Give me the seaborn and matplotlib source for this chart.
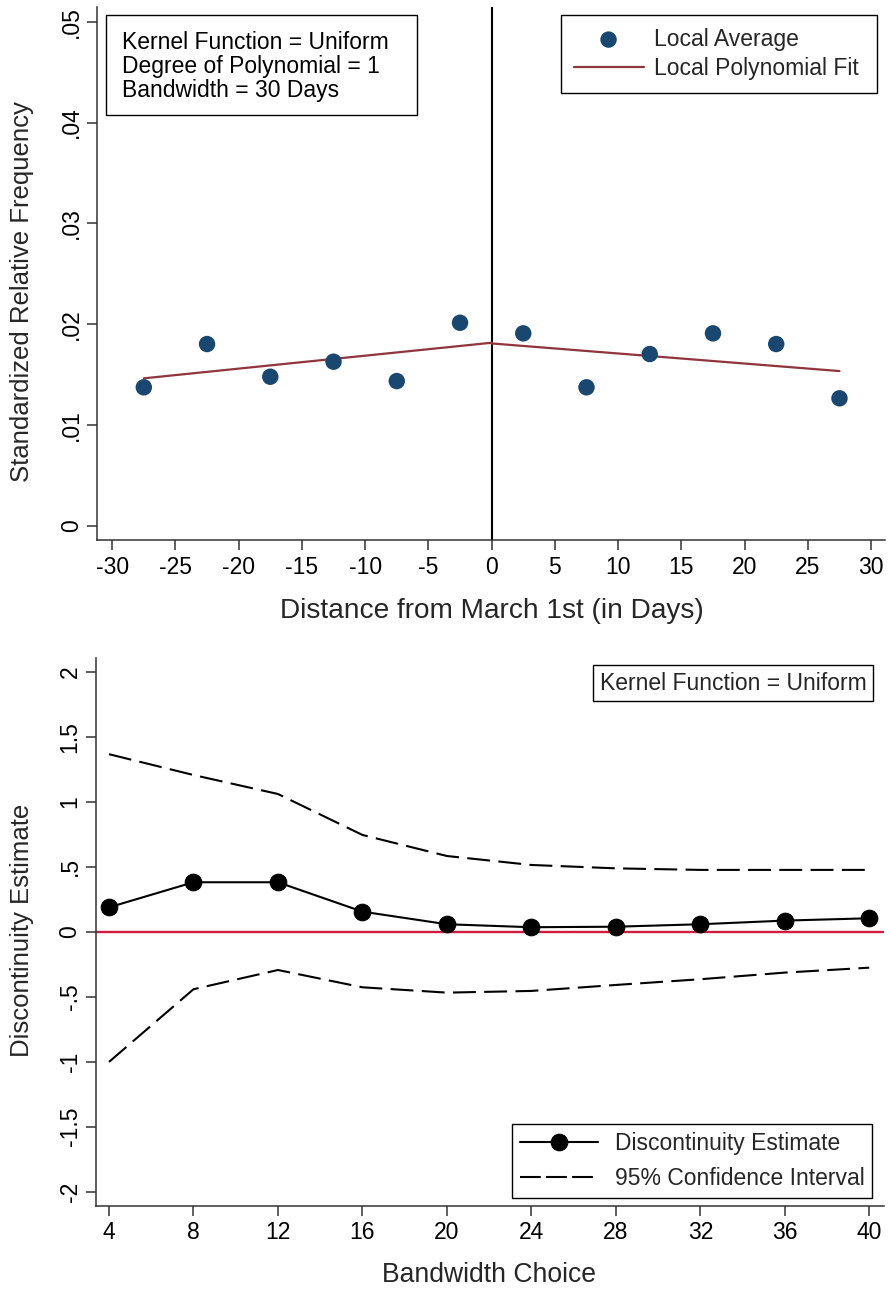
import numpy as np
import pandas as pd
import matplotlib
matplotlib.use("Agg")
import matplotlib.pyplot as plt
import matplotlib.patches as mpatches
import seaborn as sns

# ---------------- data ----------------
bin_centers = [-27.5, -22.5, -17.5, -12.5, -7.5, -2.5, 2.5, 7.5, 12.5, 17.5, 22.5, 27.5]
local_avg = [0.01375, 0.01804, 0.0148, 0.01629, 0.01437, 0.02015,
             0.0191, 0.01375, 0.01705, 0.0191, 0.01804, 0.01266]
fit_left_x = [-27.5, 0.0]
fit_left_y = [0.01464, 0.01817]
fit_right_x = [0.0, 27.5]
fit_right_y = [0.0181, 0.01536]

bandwidths = [4, 8, 12, 16, 20, 24, 28, 32, 36, 40]
estimate = [0.187, 0.38, 0.38, 0.154, 0.057, 0.034, 0.038, 0.057, 0.085, 0.103]
ci_upper = [1.365, 1.205, 1.059, 0.744, 0.582, 0.513, 0.487, 0.475, 0.475, 0.475]
ci_lower = [-1.002, -0.443, -0.295, -0.428, -0.469, -0.456, -0.41, -0.366, -0.315, -0.277]

top_xticks = [-30, -25, -20, -15, -10, -5, 0, 5, 10, 15, 20, 25, 30]
top_yticks = [0, 0.01, 0.02, 0.03, 0.04, 0.05]
top_yticklabels = ["0", ".01", ".02", ".03", ".04", ".05"]
bot_yticks = [-2, -1.5, -1, -0.5, 0, 0.5, 1, 1.5, 2]
bot_yticklabels = ["-2", "-1.5", "-1", "-.5", "0", ".5", "1", "1.5", "2"]

# ---------------- style ----------------
sns.set_theme(style="ticks")
plt.rcParams["font.family"] = ["Liberation Sans", "DejaVu Sans"]
plt.rcParams["axes.edgecolor"] = "#333333"
plt.rcParams["axes.linewidth"] = 1.1
plt.rcParams["xtick.color"] = "#333333"
plt.rcParams["ytick.color"] = "#333333"
plt.rcParams["xtick.labelcolor"] = "black"
plt.rcParams["ytick.labelcolor"] = "black"

NAVY = "#1a476f"
MAROON = "#90353b"
RED = "#d01c3f"
FS_TICK = 16.5
FS_YLAB = 18.5
FS_TXT = 16.5
DASH = (11, 4)

fig = plt.figure(figsize=(8.9, 12.89), dpi=100)
ax1 = fig.add_axes([97 / 890, 1 - 540 / 1289, 788 / 890, 533 / 1289])
ax2 = fig.add_axes([95.7 / 890, 1 - 1205.7 / 1289, 788.3 / 890, 547.7 / 1289])

# ---------------- top panel ----------------
df_pts = pd.DataFrame({"x": bin_centers, "y": local_avg})
ax1.axvline(0, color="black", lw=1.5, zorder=1)
sns.lineplot(x=fit_left_x, y=fit_left_y, ax=ax1, color=MAROON, lw=1.6,
             label="Local Polynomial Fit", errorbar=None, sort=False, zorder=2)
sns.lineplot(x=fit_right_x, y=fit_right_y, ax=ax1, color=MAROON, lw=1.6,
             errorbar=None, sort=False, zorder=2, legend=False)
sns.scatterplot(data=df_pts, x="x", y="y", ax=ax1, color=NAVY, s=140,
                edgecolor="none", label="Local Average", zorder=3)

ax1.set_xlim(-31.2, 31.1)
ax1.set_ylim(-0.00139, 0.05146)
ax1.set_xticks(top_xticks)
ax1.set_xticklabels([str(t) for t in top_xticks])
ax1.set_yticks(top_yticks)
ax1.set_yticklabels(top_yticklabels)
sns.despine(ax=ax1)

handles, labels = ax1.get_legend_handles_labels()
order = [labels.index("Local Average"), labels.index("Local Polynomial Fit")]
leg1 = ax1.legend([handles[i] for i in order], [labels[i] for i in order],
                  loc="upper right",
                  bbox_to_anchor=((561 - 97) / 788, 0.5, 316 / 788, 0.485),
                  mode="expand",
                  borderaxespad=0, frameon=True, fancybox=False, edgecolor="black",
                  framealpha=1, fontsize=FS_TXT, handlelength=3.05, handletextpad=0.48,
                  labelspacing=0.28, borderpad=0.55, scatterpoints=1)
leg1.get_frame().set_linewidth(1.0)

# text box (top-left)
ax1.add_patch(mpatches.Rectangle((9 / 788, 425 / 533), 311 / 788, 100 / 533,
                                 transform=ax1.transAxes, fill=False,
                                 edgecolor="black", lw=1.0, zorder=4))
for yb, s in zip([49, 73.5, 97], ["Kernel Function = Uniform",
                                  "Degree of Polynomial = 1",
                                  "Bandwidth = 30 Days"]):
    ax1.text(25 / 788, (540 - yb) / 533, s, transform=ax1.transAxes,
             fontsize=FS_TXT, va="baseline", ha="left", color="black")

ax1.set_xlabel("Distance from March 1st (in Days)", fontsize=20.2)
ax1.set_ylabel("Standardized Relative Frequency", fontsize=FS_YLAB)
ax1.xaxis.set_label_coords(0.501, -0.133)
ax1.xaxis.label.set_va("center")
ax1.yaxis.set_label_coords(-0.095, 0.467)
ax1.yaxis.label.set_va("center")

# ---------------- bottom panel ----------------
ax2.axhline(0, color=RED, lw=1.7, zorder=1)
sns.lineplot(x=bandwidths, y=ci_upper, ax=ax2, color="black", lw=1.5,
             errorbar=None, label="95% Confidence Interval", zorder=2)
sns.lineplot(x=bandwidths, y=ci_lower, ax=ax2, color="black", lw=1.5,
             errorbar=None, legend=False, zorder=2)
sns.lineplot(x=bandwidths, y=estimate, ax=ax2, color="black", lw=1.5,
             marker="o", markersize=12, markeredgecolor="black",
             errorbar=None, label="Discontinuity Estimate", zorder=3)
lines = ax2.get_lines()
# lines[0] = axhline, [1] upper, [2] lower, [3] estimate
for ln in lines[1:3]:
    ln.set_dashes(DASH)

ax2.set_xlim(3.37, 40.7)
ax2.set_ylim(-2.108, 2.105)
ax2.set_xticks(bandwidths)
ax2.set_xticklabels([str(b) for b in bandwidths])
ax2.set_yticks(bot_yticks)
ax2.set_yticklabels(bot_yticklabels)
sns.despine(ax=ax2)

handles, labels = ax2.get_legend_handles_labels()
order = [labels.index("Discontinuity Estimate"), labels.index("95% Confidence Interval")]
leg2 = ax2.legend([handles[i] for i in order], [labels[i] for i in order],
                  loc="lower right",
                  bbox_to_anchor=((511.7 - 95.7) / 788.3, 0.0141, 360.3 / 788.3, 0.5),
                  mode="expand",
                  borderaxespad=0, frameon=True, fancybox=False, edgecolor="black",
                  framealpha=1, fontsize=FS_TXT, handlelength=3.42, handletextpad=0.73,
                  labelspacing=0.5, borderpad=0.35)
leg2.get_frame().set_linewidth(1.0)
leg2.get_lines()[1].set_dashes((10, 2.5))

ax2.text((733 - 95.7) / 788.3, (1205.7 - 683) / 547.7, "Kernel Function = Uniform",
         transform=ax2.transAxes, fontsize=FS_TXT, ha="center", va="center",
         bbox=dict(boxstyle="square,pad=0.3", facecolor="white", edgecolor="black", lw=1.0))

ax2.set_xlabel("Bandwidth Choice", fontsize=19.1)
ax2.set_ylabel("Discontinuity Estimate", fontsize=FS_YLAB)
ax2.xaxis.set_label_coords(0.499, -0.1265)
ax2.xaxis.label.set_va("center")
ax2.yaxis.set_label_coords(-0.0935, 0.503)
ax2.yaxis.label.set_va("center")

for ax in (ax1, ax2):
    ax.tick_params(axis="both", which="major", length=7.2, width=1.1,
                   labelsize=FS_TICK, direction="out")
    ax.tick_params(axis="x", pad=4)
    ax.tick_params(axis="y", pad=3, labelrotation=90)
    for lab in ax.get_yticklabels():
        lab.set_va("center")
    ax.set_facecolor("white")

fig.patch.set_facecolor("white")
fig.savefig("out.png", dpi=100, facecolor="white")
